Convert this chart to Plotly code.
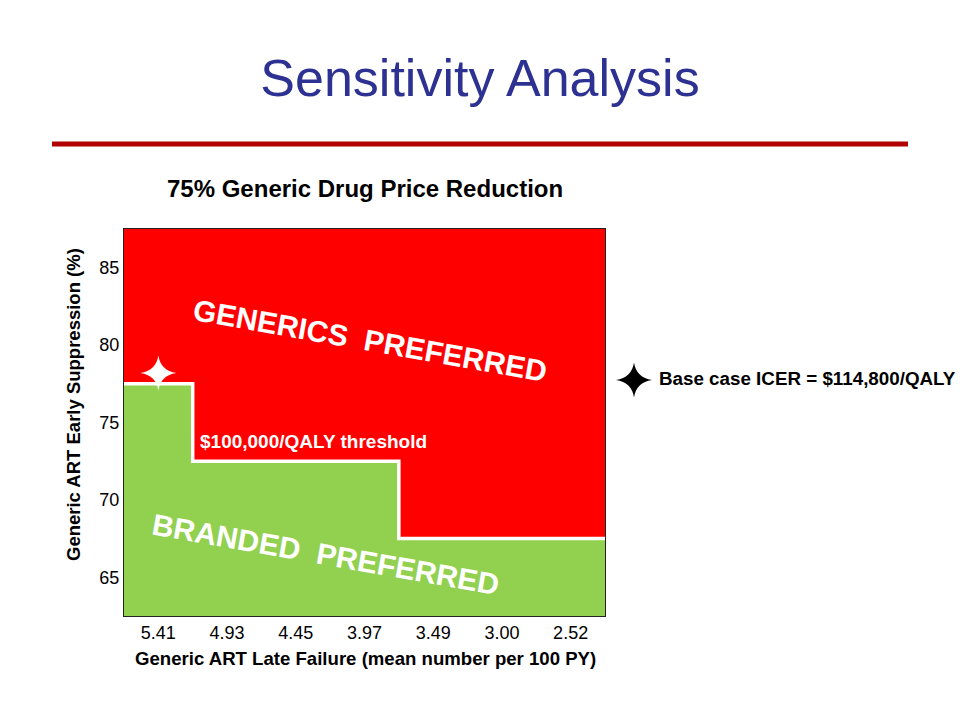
import plotly.graph_objects as go

# ---- data ----
x_labels = ["5.41", "4.93", "4.45", "3.97", "3.49", "3.00", "2.52"]
threshold = [77.5, 72.5, 72.5, 72.5, 67.5, 67.5, 67.5]
y_ticks = [65, 70, 75, 80, 85]
y_min, y_max = 62.5, 87.5
base_case_x = "5.41"
base_case_y = 78.2

title_text = "Sensitivity Analysis"
subtitle_text = "75% Generic Drug Price Reduction"
x_title = "Generic ART Late Failure (mean number per 100 PY)"
y_title = "Generic ART Early Suppression (%)"
threshold_label = "$100,000/QALY threshold"
base_case_label = "Base case ICER = $114,800/QALY"
upper_label = "GENERICS\u00a0 PREFERRED"
lower_label = "BRANDED\u00a0 PREFERRED"

# ---- layout helpers ----
W, H = 960, 720
L, R, T, B = 124, 355, 229, 104
pw, ph = W - L - R, H - T - B
n = len(x_labels)
idx = list(range(n))


def px(x):
    return (x - L) / pw


def py(y):
    return (H - B - y) / ph


def star_pixels(rx, ry, k=0.13):
    """4-pointed concave star path in pixels relative to an anchor."""
    pts = [(0, ry), (rx, 0), (0, -ry), (-rx, 0)]
    ctrl = [(k * rx, k * ry), (k * rx, -k * ry), (-k * rx, -k * ry), (-k * rx, k * ry)]
    d = "M {:.2f},{:.2f}".format(*pts[0])
    for i in range(4):
        c = ctrl[i]
        p = pts[(i + 1) % 4]
        d += " Q {:.2f},{:.2f} {:.2f},{:.2f}".format(c[0], c[1], p[0], p[1])
    return d + " Z"


FONT = "Liberation Sans, Arial, sans-serif"
GREEN = "#92D050"
RED = "#FF0000"

fig = go.Figure()

# green region (branded preferred)
fig.add_trace(go.Bar(
    x=idx, y=[t - y_min for t in threshold], base=y_min, width=1,
    marker=dict(color=GREEN, line=dict(width=0)),
    hoverinfo="skip", showlegend=False,
))

# white threshold step line
edges = [i - 0.5 for i in range(n + 1)]
fig.add_trace(go.Scatter(
    x=edges, y=threshold + [threshold[-1]], mode="lines",
    line=dict(color="white", width=3.5, shape="hv"),
    hoverinfo="skip", showlegend=False,
))

# base case point (star drawn as a data-anchored shape)
bx = x_labels.index(base_case_x)
fig.add_trace(go.Scatter(
    x=[bx], y=[base_case_y], mode="markers",
    marker=dict(symbol="star-diamond", size=8, color="white", line=dict(width=0)),
    hoverinfo="skip", showlegend=False,
))

fig.update_layout(
    width=W, height=H,
    margin=dict(l=L, r=R, t=T, b=B, pad=0),
    paper_bgcolor="white",
    plot_bgcolor=RED,
    font=dict(family=FONT, color="black"),
    bargap=0,
    title=dict(
        text=title_text, x=0.5, xref="container", xanchor="center",
        y=1 - 78 / H, yref="container", yanchor="middle",
        font=dict(family=FONT, size=52, color="#2D3192"),
    ),
    xaxis=dict(
        range=[-0.5, n - 0.5], tickmode="array", tickvals=idx, ticktext=x_labels,
        showgrid=False, zeroline=False, ticks="",
        showline=True, mirror=True, linecolor="#222222", linewidth=1,
        tickfont=dict(size=18, color="black"),
    ),
    yaxis=dict(
        range=[y_min, y_max], tickmode="array", tickvals=y_ticks,
        showgrid=False, zeroline=False, ticks="",
        showline=True, mirror=True, linecolor="#222222", linewidth=1,
        tickfont=dict(size=18, color="black"),
    ),
    shapes=[
        dict(type="line", xref="paper", yref="paper",
             x0=px(52), x1=px(908), y0=py(144), y1=py(144),
             line=dict(color="#B00000", width=5)),
        # white base-case star anchored at the data point
        dict(type="path", xref="x", yref="y",
             xsizemode="pixel", ysizemode="pixel",
             xanchor=bx, yanchor=base_case_y,
             path=star_pixels(18, 17.5),
             fillcolor="white", line=dict(width=0)),
        # black legend star
        dict(type="path", xref="paper", yref="paper",
             xsizemode="pixel", ysizemode="pixel",
             xanchor=px(634), yanchor=py(380),
             path=star_pixels(18, 17.5),
             fillcolor="black", line=dict(width=0)),
    ],
    annotations=[
        dict(text="<b>" + subtitle_text + "</b>", xref="paper", yref="paper",
             x=px(364.5), y=py(188), showarrow=False, xanchor="center", yanchor="middle",
             font=dict(size=24, color="black", family=FONT)),
        dict(text="<b>" + x_title + "</b>", xref="paper", yref="paper", x=px(365), y=py(658),
             showarrow=False, xanchor="center", yanchor="middle",
             font=dict(size=18.6, color="black", family=FONT)),
        dict(text="<b>" + y_title + "</b>", xref="paper", yref="paper", x=px(73), y=py(405),
             showarrow=False, xanchor="center", yanchor="middle", textangle=-90,
             font=dict(size=18.5, color="black", family=FONT)),
        dict(text="<b>" + threshold_label + "</b>", xref="paper", yref="paper", x=px(313), y=py(441),
             showarrow=False, xanchor="center", yanchor="middle",
             font=dict(size=19, color="white", family=FONT)),
        dict(text="<b>" + base_case_label + "</b>", xref="paper", yref="paper", x=px(657), y=py(378),
             showarrow=False, xanchor="left", yanchor="middle",
             font=dict(size=18.8, color="black", family=FONT)),
        dict(text="<b>" + upper_label + "</b>", xref="paper", yref="paper", x=px(370), y=py(340),
             showarrow=False, xanchor="center", yanchor="middle", textangle=10,
             font=dict(size=30, color="white", family=FONT)),
        dict(text="<b>" + lower_label + "</b>", xref="paper", yref="paper", x=px(326), y=py(554),
             showarrow=False, xanchor="center", yanchor="middle", textangle=10,
             font=dict(size=30, color="white", family=FONT)),
    ],
)

fig.write_html("out.html", config={"displayModeBar": False},
               post_script="document.body.style.margin='0';")
